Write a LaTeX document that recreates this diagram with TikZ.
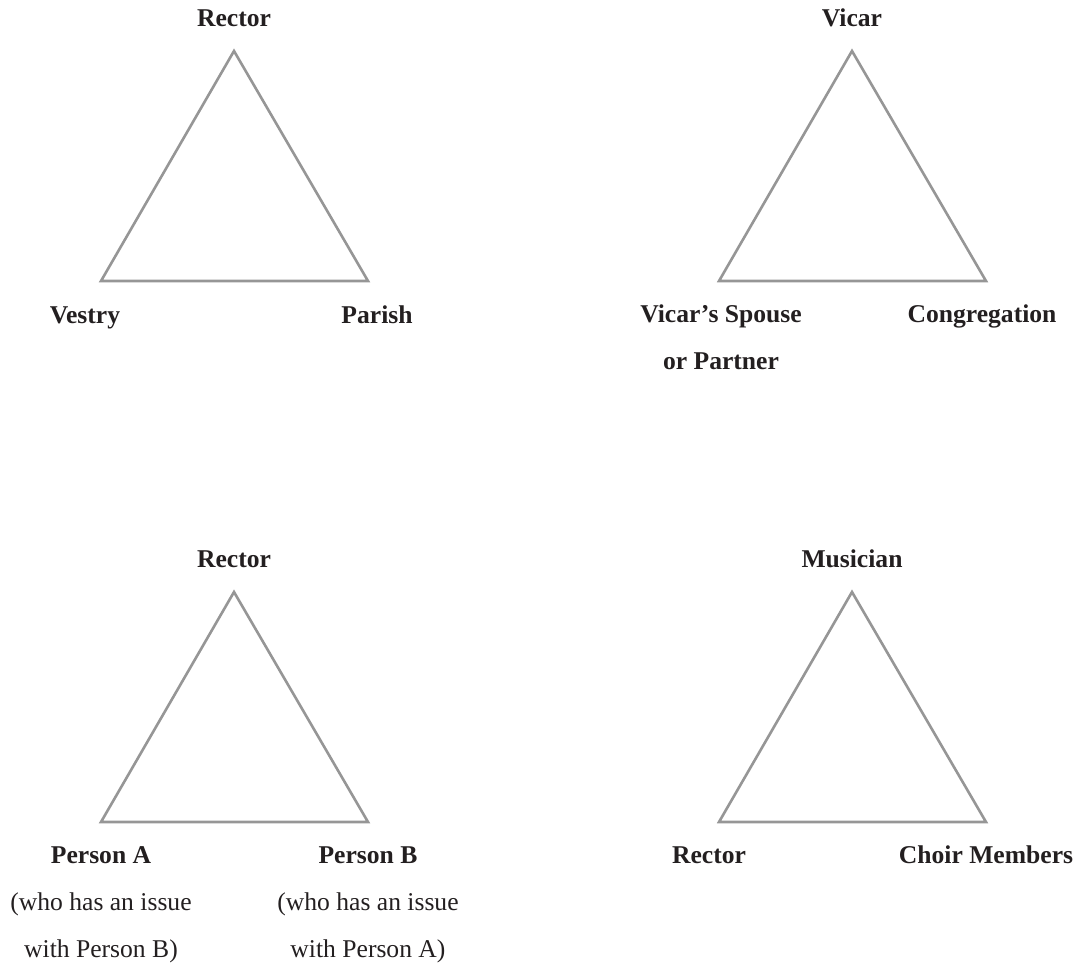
\documentclass[tikz,border=0pt]{standalone}
\usepackage{fontspec}
\setmainfont{Liberation Serif}
\usetikzlibrary{positioning}
\definecolor{edgegray}{RGB}{150,150,150}
\definecolor{inkblack}{RGB}{35,31,32}

\begin{document}
\begin{tikzpicture}[x=0.5pt,y=-0.5pt,
  side/.style={draw=edgegray,line width=1.3pt,line join=miter},
  role/.style={anchor=base,align=center,inner sep=0pt,text=inkblack,
    font=\fontsize{12.8}{23.5}\selectfont\bfseries}]
\useasboundingbox (0,0) rectangle (1083,964);
% rector, vestry and parish
\coordinate (top1) at (234,51);
\coordinate (left1) at (101,281);
\coordinate (right1) at (368,281);
\draw[side] (top1) -- (left1) -- (right1) -- cycle;
\node[role] (rector1) at (234,26) {Rector};
\node[role] (vestry) at (85,323) {Vestry};
\node[role] (parish) at (377,323) {Parish};
% vicar, spouse and congregation
\coordinate (top2) at (852,51);
\coordinate (left2) at (719,281);
\coordinate (right2) at (986,281);
\draw[side] (top2) -- (left2) -- (right2) -- cycle;
\node[role] (vicar) at (852,26) {Vicar};
% base of the last line
\node[role] (spouse) at (721,369) {Vicar's Spouse\\or Partner};
\node[role] (congregation) at (982,322) {Congregation};
% rector between two persons
\coordinate (top3) at (234,592);
\coordinate (left3) at (101,822);
\coordinate (right3) at (368,822);
\draw[side] (top3) -- (left3) -- (right3) -- cycle;
\node[role] (rector2) at (234,567) {Rector};
\node[role] (persona) at (101,957) {Person A\\{\mdseries (who has an issue}\\{\mdseries with Person B)}};
\node[role] (personb) at (368,957) {Person B\\{\mdseries (who has an issue}\\{\mdseries with Person A)}};
% musician, rector and choir
\coordinate (top4) at (852,592);
\coordinate (left4) at (719,822);
\coordinate (right4) at (986,822);
\draw[side] (top4) -- (left4) -- (right4) -- cycle;
\node[role] (musician) at (852,567) {Musician};
\node[role] (rector3) at (709,863) {Rector};
\node[role] (choir) at (986,863) {Choir Members};
\end{tikzpicture}
\end{document}
